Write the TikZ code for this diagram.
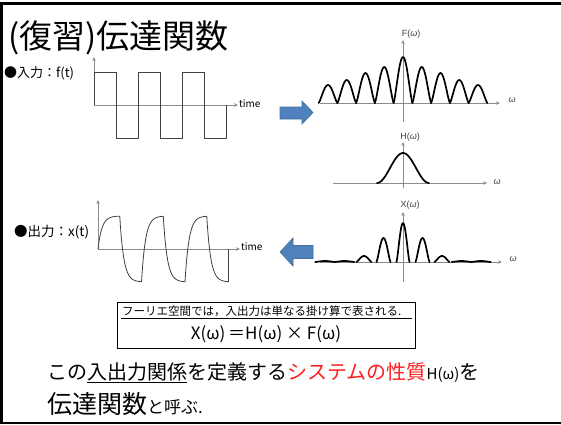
\documentclass[tikz,border=0pt]{standalone}
\usepackage{fontspec}
\setmainfont{Noto Sans CJK JP}
\newfontfamily\lab{Liberation Sans}
\usetikzlibrary{arrows.meta}
\definecolor{arrblue}{HTML}{4F81BD}
\definecolor{arredge}{HTML}{41719C}
\definecolor{axgray}{HTML}{8C8C8C}
\definecolor{wave}{HTML}{404040}
\definecolor{jred}{HTML}{FF1E1E}
\begin{document}
\begin{tikzpicture}[x=1pt,y=-1pt,
  txt/.style={inner sep=0pt, anchor=west},
  axis/.style={draw=axgray, line width=0.8pt, -{Stealth[length=4pt,width=3.5pt]}},
  sig/.style={draw=wave, line width=0.8pt, line join=round},
  spec/.style={draw=black, line width=1.7pt, line join=round, line cap=round},
  blk/.style={fill=arrblue, draw=arredge, line width=0.6pt},
  lbl/.style={inner sep=0pt, font=\lab\fontsize{9}{9}\selectfont, text=black!75}
]
\useasboundingbox (0,0) rectangle (561,424);
\fill[white] (0,0) rectangle (561,424);
% frame
\draw[line width=3pt] (0,3.5) -- (561,3.5);
\draw[line width=3pt] (1.5,2) -- (1.5,424);
\draw[line width=2.5pt] (0,422.8) -- (561,422.8);

% title
\node[txt, font=\fontsize{33}{33}\selectfont] (title) at (8,38) {(復習)伝達関数};

% input
\node[txt, font=\fontsize{13}{13}\selectfont] (inlbl) at (4,73) {●入力：f(t)};
\coordinate (io) at (94,105);
\coordinate (iy) at (94,57);
\coordinate (ix) at (238,105);
\draw[axis] (io) -- (iy);
\draw[axis] (io) -- (ix);
\node[txt, font=\fontsize{10}{10}\selectfont] (t1) at (239,104) {time};
\draw[sig] (94,105) -- (94,72) -- (116,72) -- (116,138) -- (138,138) -- (138,72) -- (160,72) -- (160,138) -- (182,138) -- (182,72) -- (204,72) -- (204,138) -- (226,138) -- (226,105);

% output
\node[txt, font=\fontsize{13.5}{13.5}\selectfont] (outlbl) at (14,232) {●出力：x(t)};
\coordinate (oo) at (98,249);
\coordinate (oy) at (98,200);
\coordinate (ox) at (240,249);
\draw[axis] (oo) -- (oy);
\draw[axis] (oo) -- (ox);
\node[txt, font=\fontsize{10}{10}\selectfont] (t2) at (241,247) {time};
\draw[sig] plot[domain=0:21.75,samples=40] ({98+\x},{249-33*(1-exp(-\x/4))});
\foreach \s in {119.75,163.25,206.75}{
  \draw[sig] plot[domain=0:21.75,samples=40] ({\s+\x},{249-(-33+66*exp(-\x/4))});
}
\foreach \s in {141.5,185}{
  \draw[sig] plot[domain=0:21.75,samples=40] ({\s+\x},{249-(33-66*exp(-\x/4))});
}
\draw[sig] (228.5,281.9) -- (228.5,249);

% blue arrows
\draw[blk] (280,107) -- (302,107) -- (302,101) -- (313,112.5) -- (302,124) -- (302,119) -- (280,119) -- cycle;
\draw[blk] (280,252) -- (293,238) -- (293,245.5) -- (313,245.5) -- (313,258.5) -- (293,258.5) -- (293,266) -- cycle;

% F(omega)
\draw[axis] (403,122) -- (403,40);
\draw[axis] (320,103) -- (500,103);
\node[lbl] (Fl) at (411,34) {F(\textit{ω})};
\node[lbl] (Fw) at (512,100) {\textit{ω}};
\foreach \c/\h in {328/18, 346.75/23, 365.5/30, 384.25/36, 403/46, 421.75/36, 440.5/30, 459.25/23, 478/18}{
  \draw[spec] plot[domain=-9.375:9.375, samples=25] ({\c+\x},{103-\h*pow(cos(\x*180/18.75),1.3)});
}

% H(omega)
\draw[axis] (403,188) -- (403,142);
\draw[axis] (333,183) -- (487,183);
\node[lbl] (Hl) at (410,137) {H(\textit{ω})};
\node[lbl] (Hw) at (497,182) {\textit{ω}};
\draw[spec] plot[domain=-26:26, samples=40] ({403+\x},{183-15*(1+cos(\x*180/26))});

% X(omega)
\draw[axis] (403,282) -- (403,212);
\draw[axis] (320,262) -- (502,262);
\node[lbl] (Xl) at (410,205) {X(\textit{ω})};
\node[lbl] (Xw) at (513,259) {\textit{ω}};
\foreach \c/\h/\w in {325/1/19.5, 344.5/1/19.5, 364/6/15, 383.5/24/14, 403/39/13, 422.5/24/14, 442/6/15, 461.5/1/19.5, 481/1/19.5}{
  \draw[spec] plot[domain=-\w/2:\w/2, samples=25] ({\c+\x},{262-\h*pow(cos(\x*180/\w),1.3)});
}

% formula box
\draw[line width=0.8pt] (117,302) rectangle (415,348);
\node[txt, font=\fontsize{11.5}{12}\selectfont] (note) at (122,311) {フーリエ空間では，入出力は単なる掛け算で表される.};
\draw[line width=0.6pt] (121,318.5) -- (412,318.5);
\node[inner sep=0pt, font=\fontsize{17}{17}\selectfont] (eq) at (266,334) {X(ω)\,＝H(ω) × F(ω)};

% bottom text
\node[txt, font=\fontsize{20}{20}\selectfont] (l1) at (47,373) {この\underline{入出力関係}を定義する\textcolor{jred}{システムの性質}{\fontsize{15}{15}\selectfont H(ω)}を};
\node[txt] (l2) at (47,404) {{\fontsize{25}{25}\selectfont 伝達関数}{\fontsize{17}{17}\selectfont と呼ぶ.}};
\end{tikzpicture}
\end{document}
